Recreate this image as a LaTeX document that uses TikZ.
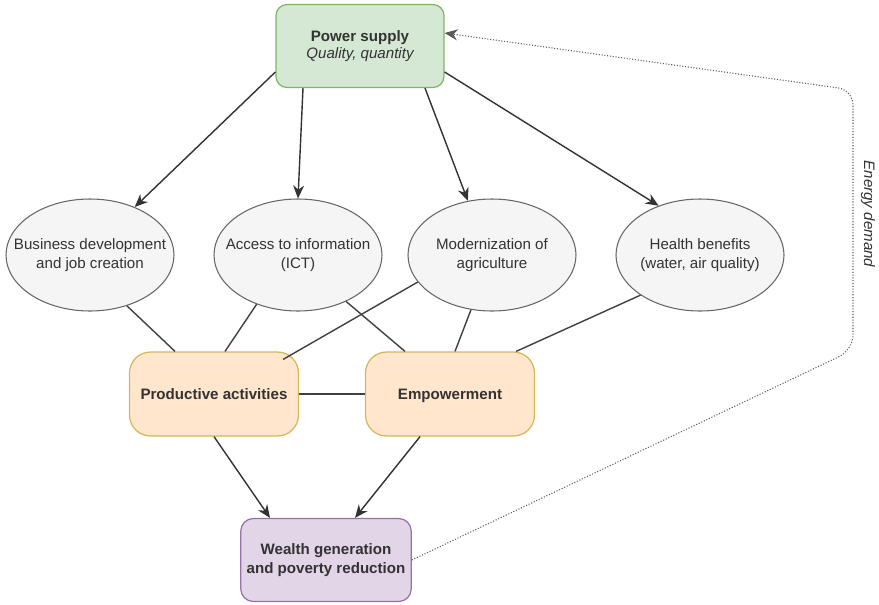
\documentclass[tikz,border=0pt]{standalone}
\usepackage{fontspec}
\setmainfont{Liberation Sans}
\usepackage{tikz}
\usetikzlibrary{arrows.meta,positioning,calc,shapes.geometric}
\definecolor{supfill}{HTML}{D5E8D4}\definecolor{supline}{HTML}{82B366}
\definecolor{midfill}{HTML}{FFE6CC}\definecolor{midline}{HTML}{D6B656}
\definecolor{endfill}{HTML}{E1D5E7}\definecolor{endline}{HTML}{9673A6}
\definecolor{ellfill}{HTML}{F5F5F5}\definecolor{ellline}{HTML}{666666}
\definecolor{txt}{HTML}{333333}

\begin{document}
\begin{tikzpicture}[
				font=\fontsize{8.6}{10.5}\selectfont,
				text=txt,
				box/.style={rectangle,draw,line width=0.7pt,minimum width=3.36cm,minimum height=1.66cm,align=center,font=\fontsize{8.6}{10.5}\selectfont\bfseries},
				sup/.style={box,fill=supfill,draw=supline,rounded corners=0.22cm},
				mid/.style={box,fill=midfill,draw=midline,rounded corners=0.42cm,minimum width=3.38cm,minimum height=1.68cm,text height=1.6ex,text depth=0.4ex},
				fin/.style={box,fill=endfill,draw=endline,rounded corners=0.25cm},
				ell/.style={ellipse,draw=ellline,fill=ellfill,line width=0.6pt,minimum width=3.36cm,minimum height=2.24cm,inner sep=0pt},
				lbl/.style={align=center,inner sep=0pt},
				flow/.style={-{Stealth[length=2.6mm,width=2.2mm]},line width=0.8pt,black!80},
				link/.style={line width=0.8pt,black!75},
				demand/.style={-{Stealth[length=2.6mm,width=2.2mm]},densely dotted,line width=0.6pt,black!65,rounded corners=0.3cm}
				]
				\useasboundingbox (0,0) rectangle (17.58,12.08);
				
				\node[sup] (power) at (7.2,11.16) {Power supply\\[-0.5pt]\mdseries\itshape Quality, quantity};
				
				\node[ell] (biz) at (1.8,6.98) {};
				\node[ell] (ict) at (5.96,6.98) {};
				\node[ell] (agri) at (9.84,6.98) {};
				\node[ell] (health) at (14.0,6.98) {};
				\node[lbl] (biz-t) at (biz) {Business development\\and job creation};
				\node[lbl] (ict-t) at (ict) {Access to information\\(ICT)};
				\node[lbl] (agri-t) at (agri) {Modernization of\\agriculture};
				\node[lbl] (health-t) at (health) {Health benefits\\(water, air quality)};
				
				\node[mid] (prod) at (4.28,4.2) {Productive activities};
				\node[mid] (emp) at (9.0,4.2) {Empowerment};
				\node[fin] (wealth) at (6.52,0.88) {Wealth generation\\and poverty reduction};
				
				\draw[flow] ([yshift=-0.52cm]power.west) -- (biz.47);
				\draw[flow] ([xshift=-1.14cm]power.south) -- (ict.north);
				\draw[flow] ([xshift=1.3cm]power.south) -- (agri.114);
				\draw[flow] ([yshift=-0.52cm]power.east) -- (health.130);
				
				\draw[link] (biz.306) -- ([xshift=-0.78cm]prod.north);
				\draw[link] (ict.230) -- ([xshift=0.22cm]prod.north);
				\draw[link] (ict.316) -- ([xshift=-0.9cm]emp.north);
				\draw[link] (agri.200) -- ([xshift=-0.32cm,yshift=-0.16cm]prod.north east);
				\draw[link] (agri.249) -- ([xshift=0.1cm]emp.north);
				\draw[link] (health.214) -- ([xshift=-0.38cm]emp.north east);
				\draw[link] (prod) -- (emp);
				
				\draw[flow] (prod.south) -- ([xshift=-1.12cm]wealth.north);
				\draw[flow] ([xshift=-0.6cm]emp.south) -- ([xshift=0.58cm]wealth.north);
				
				\coordinate (bend-lo) at (17.06,5.08);
				\coordinate (bend-hi) at (17.06,10.28);
				\draw[demand] (wealth.east) -- (bend-lo) -- (bend-hi) -- ([yshift=0.26cm]power.east);
				\node[rotate=-90,font=\fontsize{8.6}{10.5}\selectfont\itshape] (energy) at (17.36,7.80) {Energy demand};
			\end{tikzpicture}
\end{document}
